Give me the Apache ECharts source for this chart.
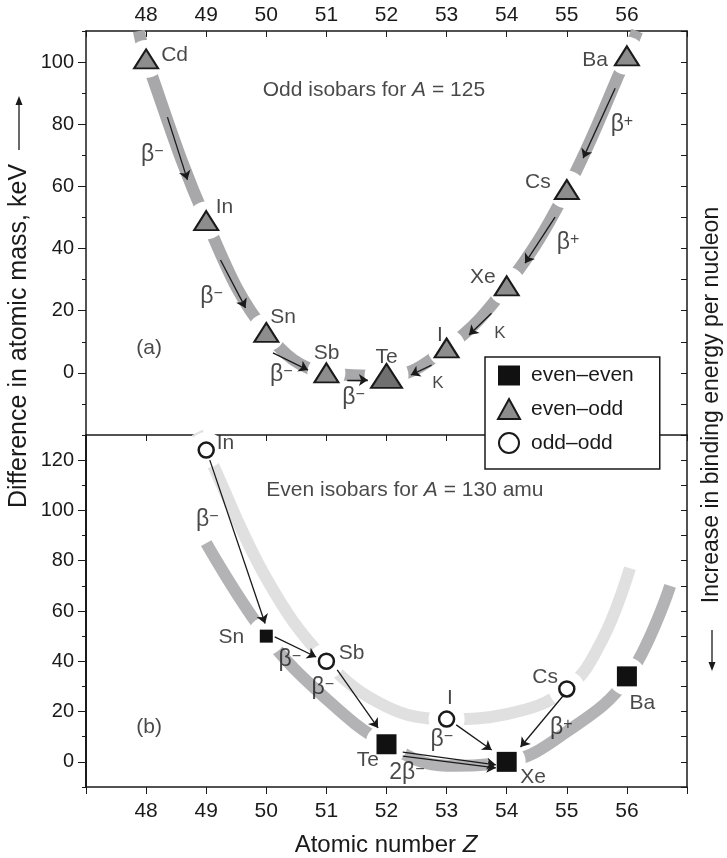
<!DOCTYPE html>
<html><head><meta charset="utf-8">
<script src="https://cdn.jsdelivr.net/npm/echarts@6/dist/echarts.min.js"></script>
<style>html,body{margin:0;padding:0;background:#fff}#c{width:727px;height:858px}</style>
</head><body><div id="c"></div>
<script>
// ---------- data ----------
const zTicks = [48,49,50,51,52,53,54,55,56];
const yTicksA = [0,20,40,60,80,100];
const yTicksB = [0,20,40,60,80,100,120];

// Panel (a): odd isobars, A = 125 (even-odd nuclei)
const oddNames = ['Cd','In','Sn','Sb','Te','I','Xe','Cs','Ba'];
const oddZ     = [48,49,50,51,52,53,54,55,56];
const oddMass  = [101,49,13,0,-1,8,28,59,102];
const oddBandZ    = [47.88,48,49,50,51,52,53,54,55,56,56.17];
const oddBandMass = [110,101,49,13,0,-1,8,28,59,102,110];

// Panel (b): even isobars, A = 130
const eeNames = ['Sn','Te','Xe','Ba'];
const eeZ     = [50,52,54,56];
const eeMass  = [50,7,0,34];
const ooNames = ['In','Sb','I','Cs'];
const ooZ     = [49,51,53,55];
const ooMass  = [124,40,17,29];
const eeBandZ    = [49,50,51,52,53,54,55,56,56.72];
const eeBandMass = [87,50,25,7,-1.5,0,12,33,70];
const ooBandZ    = [48.85,49,50,51,52,53,54,55,55.6,56.05];
const ooBandMass = [131,124,73,40,22,17,19,29,49,77];

// decay arrows [Z1, m1, Z2, m2]
const arrowsA = [
  [48.355,82.3,48.688,62.1],[49.238,36.3,49.655,20.9],[50.11,6.4,50.695,0.9],
  [51.347,-2.3,51.69,-2.3],[52.75,2.5,52.405,-0.7],[53.747,19.2,53.372,12.2],
  [54.805,50.1,54.305,35.3],[55.805,91.6,55.272,69.1]
];
const arrowsB = [
  [49.06,120,49.98,55],[50.14,49.7,50.83,41.7],[51.18,36.6,51.86,13.5],
  [53.16,14.7,53.75,4.7],[54.95,26.6,54.23,5.9],
  [52.27,3.9,53.82,-1.2],[52.27,2.3,53.82,-2.4]
];

// text annotations [Z, mass, text, align]
const textA = [
  [48.25,102.3,'Cd','l'],[49.305,53.4,'In'],[50.28,18,'Sn'],[51.005,6.4,'Sb'],[52.0,5.1,'Te'],
  [52.89,12.2,'I'],[53.605,30.8,'Xe'],[54.52,61.4,'Cs'],[55.47,100.7,'Ba'],
  [48.105,70.1,'β-'],[49.088,24.4,'β-'],[50.248,-0.7,'β-'],[51.45,-8.1,'β-'],
  [52.855,-3.3,'K'],[53.888,12.8,'K'],[55.022,41.8,'β+'],[55.917,79.8,'β+'],
  [48.05,8,'(a)'],[49.94,91,'ODD','l']
];
const textB = [
  [49.32,126.6,'In'],[49.42,49.7,'Sn'],[51.42,43.3,'Sb'],[51.69,0.8,'Te'],[53.055,25.4,'I'],
  [54.44,-6,'Xe'],[54.64,33.8,'Cs'],[56.255,23.4,'Ba'],
  [49.02,96.3,'β-'],[50.39,40.5,'β-'],[50.94,29.4,'β-'],[52.92,8.7,'β-'],[52.34,-4.4,'2β-'],
  [54.91,13.5,'β+'],[48.05,13.9,'(b)'],[50.0,108.2,'EVEN','l']
];

// ---------- chart ----------
const FF = 'Liberation Sans, Arial, Helvetica, sans-serif';
const INK = '#1a1a1a';
const chart = echarts.init(document.getElementById('c'), null, {renderer:'canvas'});

function fmt(t){
  if (t==='β-') return '{g|β}{s|−}';
  if (t==='β+') return '{g|β}{s|+}';
  if (t==='2β-') return '{g|2β}{s|−}';
  if (t==='K') return '{k|K}';
  if (t==='ODD') return '{n|Odd isobars for }{i|A}{n| = 125}';
  if (t==='EVEN') return '{n|Even isobars for }{i|A}{n| = 130 amu}';
  return '{n|'+t+'}';
}
const rich = {
  n:{fontSize:21,fontFamily:FF,color:INK},
  i:{fontSize:21,fontFamily:FF,color:INK,fontStyle:'italic'},
  g:{fontSize:23,fontFamily:FF,color:INK},
  s:{fontSize:16,fontFamily:FF,color:INK,verticalAlign:'top'},
  k:{fontSize:17,fontFamily:FF,color:INK}
};
function textSeries(arr, xi, yi){
  return {
    type:'scatter', xAxisIndex:xi, yAxisIndex:yi, silent:true, z:6,
    symbolSize:1, itemStyle:{color:'rgba(0,0,0,0)'},
    data: arr.map(a=>({value:[a[0],a[1]], name:a[2],
      label:{align: a[3]==='l' ? 'left' : 'center'}})),
    label:{show:true, position:'inside', verticalAlign:'middle',
      formatter:p=>fmt(p.name), rich:rich}
  };
}
function band(zs, ms, xi, yi, color){
  return {type:'line', xAxisIndex:xi, yAxisIndex:yi, silent:true, z:1,
    data: zs.map((z,i)=>[z,ms[i]]), smooth:0.4, symbol:'none',
    lineStyle:{color:color, width:12, cap:'butt', opacity:1}};
}
function halo(zs, ms, sizes, xi, yi){
  return {type:'scatter', xAxisIndex:xi, yAxisIndex:yi, silent:true, z:2,
    symbol:'circle', itemStyle:{color:'#ffffff', opacity:1},
    data: zs.map((z,i)=>({value:[z,ms[i]], symbolSize:sizes[i]}))};
}
function arrows(arr, xi, yi){
  return {type:'lines', coordinateSystem:'cartesian2d', xAxisIndex:xi, yAxisIndex:yi,
    silent:true, z:3, symbol:['none','arrow'], symbolSize:9,
    lineStyle:{color:INK, width:1.3, opacity:1},
    data: arr.map(a=>({coords:[[a[0],a[1]],[a[2],a[3]]]}))};
}
const axLine = {show:true, onZero:false, lineStyle:{color:INK, width:1.5}};
const xBase = {type:'value', min:47, max:57, interval:1, splitLine:{show:false}};
const option = {
  animation:false,
  backgroundColor:'#fff',
  textStyle:{fontFamily:FF},
  grid:[
    {left:86, right:40, top:31, height:404, containLabel:false, outerBoundsMode:'none'},
    {left:86, right:40, top:435, height:352, containLabel:false, outerBoundsMode:'none'}
  ],
  legend:{
    data:['even–even','even–odd','odd–odd'], orient:'vertical', left:485, top:357,
    itemWidth:22, itemHeight:20, itemGap:12, padding:[8,26,15,12],
    borderColor:INK, borderWidth:1.5, backgroundColor:'#fff', selectedMode:false, z:10,
    textStyle:{fontSize:21, color:INK, fontFamily:FF, padding:[0,0,0,6]}
  },
  xAxis:[
    Object.assign({gridIndex:0, position:'top', axisLine:axLine,
      axisTick:{show:true, inside:true, length:6, lineStyle:{color:INK}},
      axisLabel:{show:true, fontSize:21, color:INK, fontFamily:FF, margin:5,
        formatter:v=> zTicks.includes(v) ? String(v) : ''}}, xBase),
    Object.assign({gridIndex:1, position:'bottom', axisLine:axLine,
      axisTick:{show:true, inside:false, length:7, lineStyle:{color:INK}},
      axisLabel:{show:true, fontSize:21, color:INK, fontFamily:FF, margin:14,
        formatter:v=> zTicks.includes(v) ? String(v) : ''}}, xBase),
    Object.assign({gridIndex:1, position:'top', axisLine:axLine,
      axisTick:{show:true, inside:true, length:6, lineStyle:{color:INK}},
      axisLabel:{show:false}}, xBase)
  ],
  yAxis:[
    {type:'value', gridIndex:0, position:'left', min:-20, max:110, splitLine:{show:false},
      axisLine:axLine,
      axisTick:{show:true, length:8, customValues:yTicksA, lineStyle:{color:INK}},
      axisLabel:{show:true, fontSize:20, color:INK, fontFamily:FF, margin:12, customValues:yTicksA}},
    {type:'value', gridIndex:0, position:'left', min:-20, max:110, interval:10, splitLine:{show:false},
      axisLine:{show:false, onZero:false}, axisTick:{show:true, length:4, lineStyle:{color:INK}}, axisLabel:{show:false}},
    {type:'value', gridIndex:0, position:'right', min:-20, max:110, interval:10, splitLine:{show:false},
      axisLine:axLine, axisTick:{show:true, inside:true, length:6, lineStyle:{color:INK}}, axisLabel:{show:false}},
    {type:'value', gridIndex:1, position:'left', min:-10, max:130, splitLine:{show:false},
      axisLine:{show:true, onZero:false, lineStyle:{color:INK, width:2}},
      axisTick:{show:true, length:8, customValues:yTicksB, lineStyle:{color:INK}},
      axisLabel:{show:true, fontSize:20, color:INK, fontFamily:FF, margin:12, customValues:yTicksB}},
    {type:'value', gridIndex:1, position:'left', min:-10, max:130, interval:10, splitLine:{show:false},
      axisLine:{show:false, onZero:false}, axisTick:{show:true, length:4, lineStyle:{color:INK}}, axisLabel:{show:false}},
    {type:'value', gridIndex:1, position:'right', min:-10, max:130, interval:10, splitLine:{show:false},
      axisLine:axLine, axisTick:{show:true, inside:true, length:6, lineStyle:{color:INK}}, axisLabel:{show:false}}
  ],
  series:[
    band(oddBandZ, oddBandMass, 0, 0, '#a8a8aa'),
    band(ooBandZ, ooBandMass, 1, 3, '#e0e0e1'),
    band(eeBandZ, eeBandMass, 1, 3, '#b3b3b5'),
    halo(oddZ, oddMass, oddNames.map(n=> n==='Te'?44:38), 0, 0),
    halo(eeZ, eeMass, eeNames.map(n=> n==='Te'?42:38), 1, 3),
    halo(ooZ, ooMass, ooNames.map(()=>36), 1, 3),
    arrows(arrowsA, 0, 0),
    arrows(arrowsB, 1, 3),
    {name:'even–odd', type:'scatter', xAxisIndex:0, yAxisIndex:0, z:4, silent:true,
      symbol:'triangle', symbolSize:[24,19],
      itemStyle:{color:'#8d8d8d', borderColor:INK, borderWidth:2, opacity:1},
      data: oddZ.map((z,i)=> oddNames[i]==='Te'
        ? {value:[z,oddMass[i]], symbolSize:[31,24], itemStyle:{color:'#6f6f6f'}}
        : {value:[z,oddMass[i]]})},
    {name:'even–even', type:'scatter', xAxisIndex:1, yAxisIndex:3, z:4, silent:true,
      symbol:'rect', symbolSize:20, itemStyle:{color:'#111', opacity:1},
      data: eeZ.map((z,i)=> eeNames[i]==='Sn'
        ? {value:[z,eeMass[i]], symbolSize:13} : {value:[z,eeMass[i]]})},
    {name:'odd–odd', type:'scatter', xAxisIndex:1, yAxisIndex:3, z:4, silent:true,
      symbol:'circle', symbolSize:15,
      itemStyle:{color:'#fff', borderColor:INK, borderWidth:2.5, opacity:1},
      data: ooZ.map((z,i)=>[z,ooMass[i]])},
    textSeries(textA, 0, 0),
    textSeries(textB, 1, 3)
  ],
  graphic:[
    {type:'text', x:19, y:336, rotation:Math.PI/2, silent:true,
      style:{text:'Difference in atomic mass, keV', font:'25px '+FF, fill:INK, align:'center', verticalAlign:'middle'}},
    {type:'line', silent:true, shape:{x1:19, y1:150, x2:19, y2:103}, style:{stroke:INK, lineWidth:1.3}},
    {type:'polygon', silent:true, shape:{points:[[19,96],[15.5,105],[22.5,105]]}, style:{fill:INK}},
    {type:'text', x:712, y:405, rotation:Math.PI/2, silent:true,
      style:{text:'Increase in binding energy per nucleon', font:'23px '+FF, fill:INK, align:'center', verticalAlign:'middle'}},
    {type:'line', silent:true, shape:{x1:712, y1:630, x2:712, y2:664}, style:{stroke:INK, lineWidth:1.3}},
    {type:'polygon', silent:true, shape:{points:[[712,671],[708.5,662],[715.5,662]]}, style:{fill:INK}},
    {type:'text', x:386, y:845, silent:true,
      style:{text:'{n|Atomic number }{i|Z}', rich:{n:{font:'24px '+FF, fill:INK}, i:{font:'italic 24px '+FF, fill:INK}}, align:'center', verticalAlign:'middle'}}
  ]
};
chart.setOption(option);
</script>
</body></html>
